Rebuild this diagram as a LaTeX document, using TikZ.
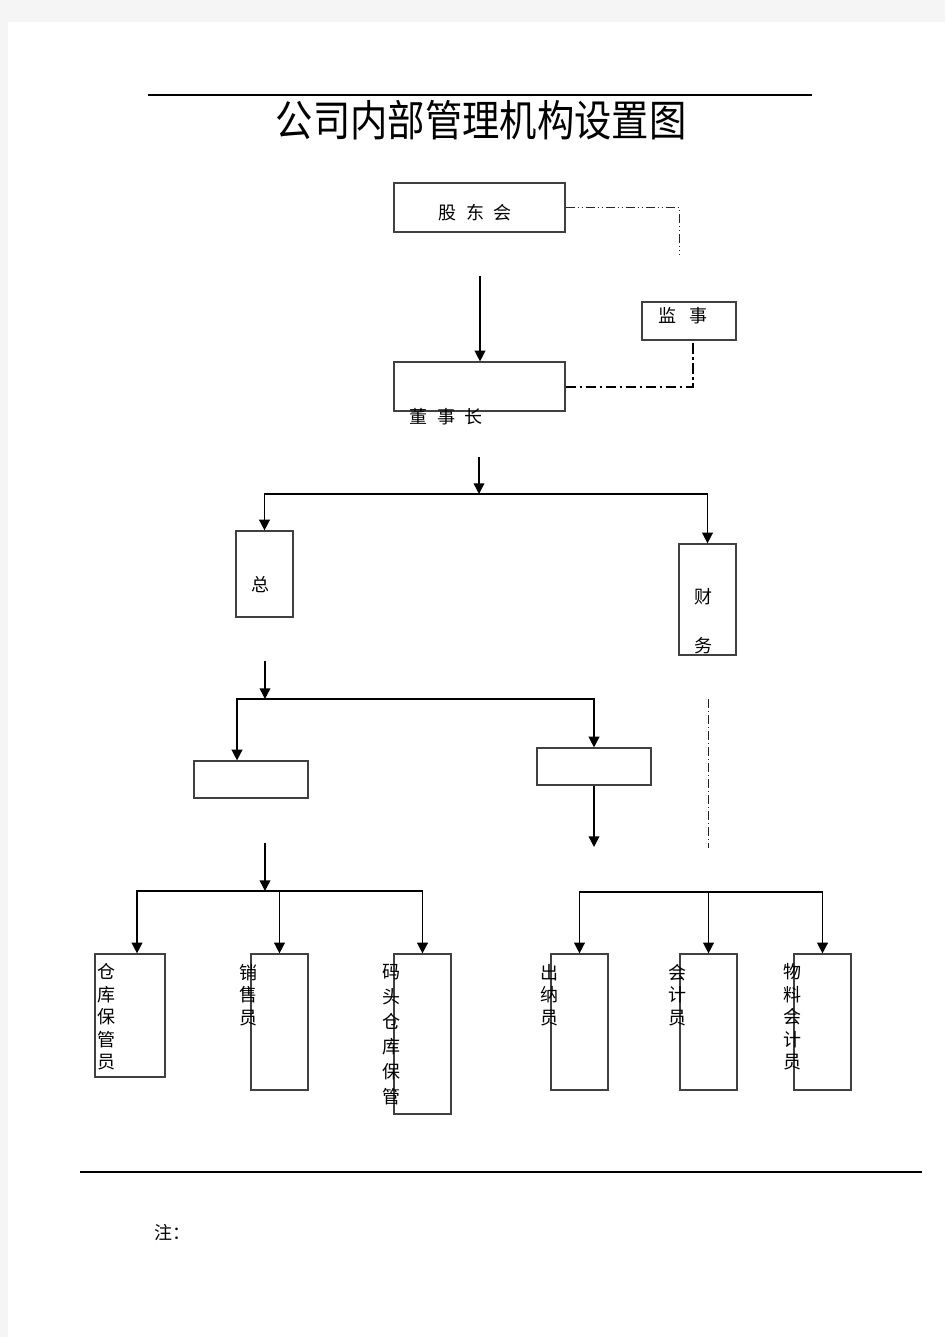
\documentclass[tikz,border=0pt]{standalone}
\usepackage{fontspec}
\usepackage{tikz}
\usetikzlibrary{arrows.meta}
\newfontfamily\cjk{Noto Sans CJK SC}
\newcommand{\pxScale}[0]{0.75pt}
\newcommand{\gap}[0]{\hspace{0.55em}}

\begin{document}
\begin{tikzpicture}[x=\pxScale, y=-\pxScale]
  \tikzset{orgbox/.style 2 args={draw=black!75, line width=0.9pt, inner sep=0pt,
             minimum width=#1*\pxScale, minimum height=#2*\pxScale},
           lbl/.style={font=\cjk\fontsize{13.5}{16.9}\selectfont, inner sep=0pt, align=center},
           arr/.style={-{Triangle[length=8pt,width=8pt]}, line width=1.1pt},
           both/.style={{Triangle[length=8pt,width=8pt]}-{Triangle[length=8pt,width=8pt]}, line width=1.1pt},
           dashdot/.style={draw=black!85, line width=0.7pt,
             dash pattern=on 7pt off 2pt on 1pt off 2pt on 1pt off 2pt},
           heavydash/.style={line width=1.5pt, dash pattern=on 8pt off 2.5pt on 2pt off 2.5pt}}
  \useasboundingbox (0,0) rectangle (945,1337);
  \fill[black!4] (0,0) rectangle (945,1337);
  \fill[white] (8,22) rectangle (945,1337);

  \draw[line width=0.9pt] (148,95) -- (812,95);
  \node[font=\cjk\fontsize{28}{30}\selectfont, inner sep=0pt] (title) at (481,120)
    {\scalebox{1}[1.15]{公司内部管理机构设置图}};

  \node[orgbox={171}{49}] (gdh) at (479.5,207.5) {};
  \node[orgbox={94}{38}] (js) at (689,321) {};
  \node[orgbox={171}{49}] (dsz) at (479.5,386.5) {};
  \node[orgbox={57}{86}] (zong) at (264.5,574) {};
  \node[orgbox={57}{111}] (cw) at (707.5,599.5) {};
  \node[orgbox={114}{37}] (m1) at (251,779.5) {};
  \node[orgbox={114}{37}] (m2) at (594,766.5) {};
  \node[orgbox={70}{123}] (ck) at (130,1015.5) {};
  \node[orgbox={57}{136}] (xs) at (279.5,1022) {};
  \node[orgbox={57}{160}] (mt) at (422.5,1034) {};
  \node[orgbox={57}{136}] (cn) at (579.5,1022) {};
  \node[orgbox={57}{136}] (kj) at (708.5,1022) {};
  \node[orgbox={57}{136}] (wl) at (822.5,1022) {};

  \node[lbl] (gdhT) at (475,213) {股\gap 东\gap 会};
  \node[lbl] (jsT) at (683,316) {监\hspace{0.75em}事};
  \node[lbl] (dszT) at (446,417) {董\gap 事\gap 长};
  \node[lbl] (zongT) at (260,585) {总};
  \node[lbl, font=\cjk\fontsize{13.5}{37}\selectfont] (cwT) at (703,621) {财\\务};
  \node[lbl] (ckT) at (106,1017) {仓\\库\\保\\管\\员};
  \node[lbl] (xsT) at (248,995) {销\\售\\员};
  \node[lbl, font=\cjk\fontsize{13.5}{18.75}\selectfont] (mtT) at (391,1034.5) {码\\头\\仓\\库\\保\\管};
  \node[lbl] (cnT) at (549,995) {出\\纳\\员};
  \node[lbl] (kjT) at (677,995) {会\\计\\员};
  \node[lbl] (wlT) at (792,1017) {物\\料\\会\\计\\员};

  \coordinate (c1) at (679,255);
  \coordinate (jsFoot) at (693,340);
  \draw[dashdot] (gdh.east) -| (c1);
  \draw[heavydash] (dsz.east) -| (jsFoot);

  \coordinate (a1) at (480,276);
  \draw[arr] (a1) -- (a1 |- dsz.north);

  \coordinate (a2) at (479,457);
  \coordinate (bus1) at (479,494);
  \draw[arr] (a2) -- (bus1);
  \draw[both] (zong.north) -- (zong.north |- bus1) -- (cw.north |- bus1) -- (cw.north);

  \coordinate (a3) at (265,661);
  \coordinate (bus2) at (265,699);
  \coordinate (b2l) at (237,699);
  \draw[arr] (a3) -- (bus2);
  \draw[both] (b2l |- m1.north) -- (b2l) -- (m2.north |- bus2) -- (m2.north);
  \coordinate (a4) at (594,847);
  \draw[arr] (m2.south) -- (a4);
  \coordinate (d1) at (708,699);
  \coordinate (d2) at (708,848);
  \draw[dashdot, dash pattern=on 7pt off 2pt on 1pt off 2pt] (d1) -- (d2);

  \coordinate (a5) at (265,843);
  \coordinate (bus3) at (265,891);
  \coordinate (b3l) at (137,891);
  \draw[arr] (a5) -- (bus3);
  \draw[both] (b3l |- ck.north) -- (b3l) -- (mt.north |- bus3) -- (mt.north);
  \draw[arr] (xs.north |- bus3) -- (xs.north);

  \coordinate (bus4) at (708,892);
  \draw[both] (cn.north) -- (cn.north |- bus4) -- (wl.north |- bus4) -- (wl.north);
  \draw[arr] (kj.north |- bus4) -- (kj.north);

  \draw[line width=0.9pt] (80,1172) -- (922,1172);
  \node[lbl, anchor=west] (note) at (154,1233) {注：};
\end{tikzpicture}
\end{document}
